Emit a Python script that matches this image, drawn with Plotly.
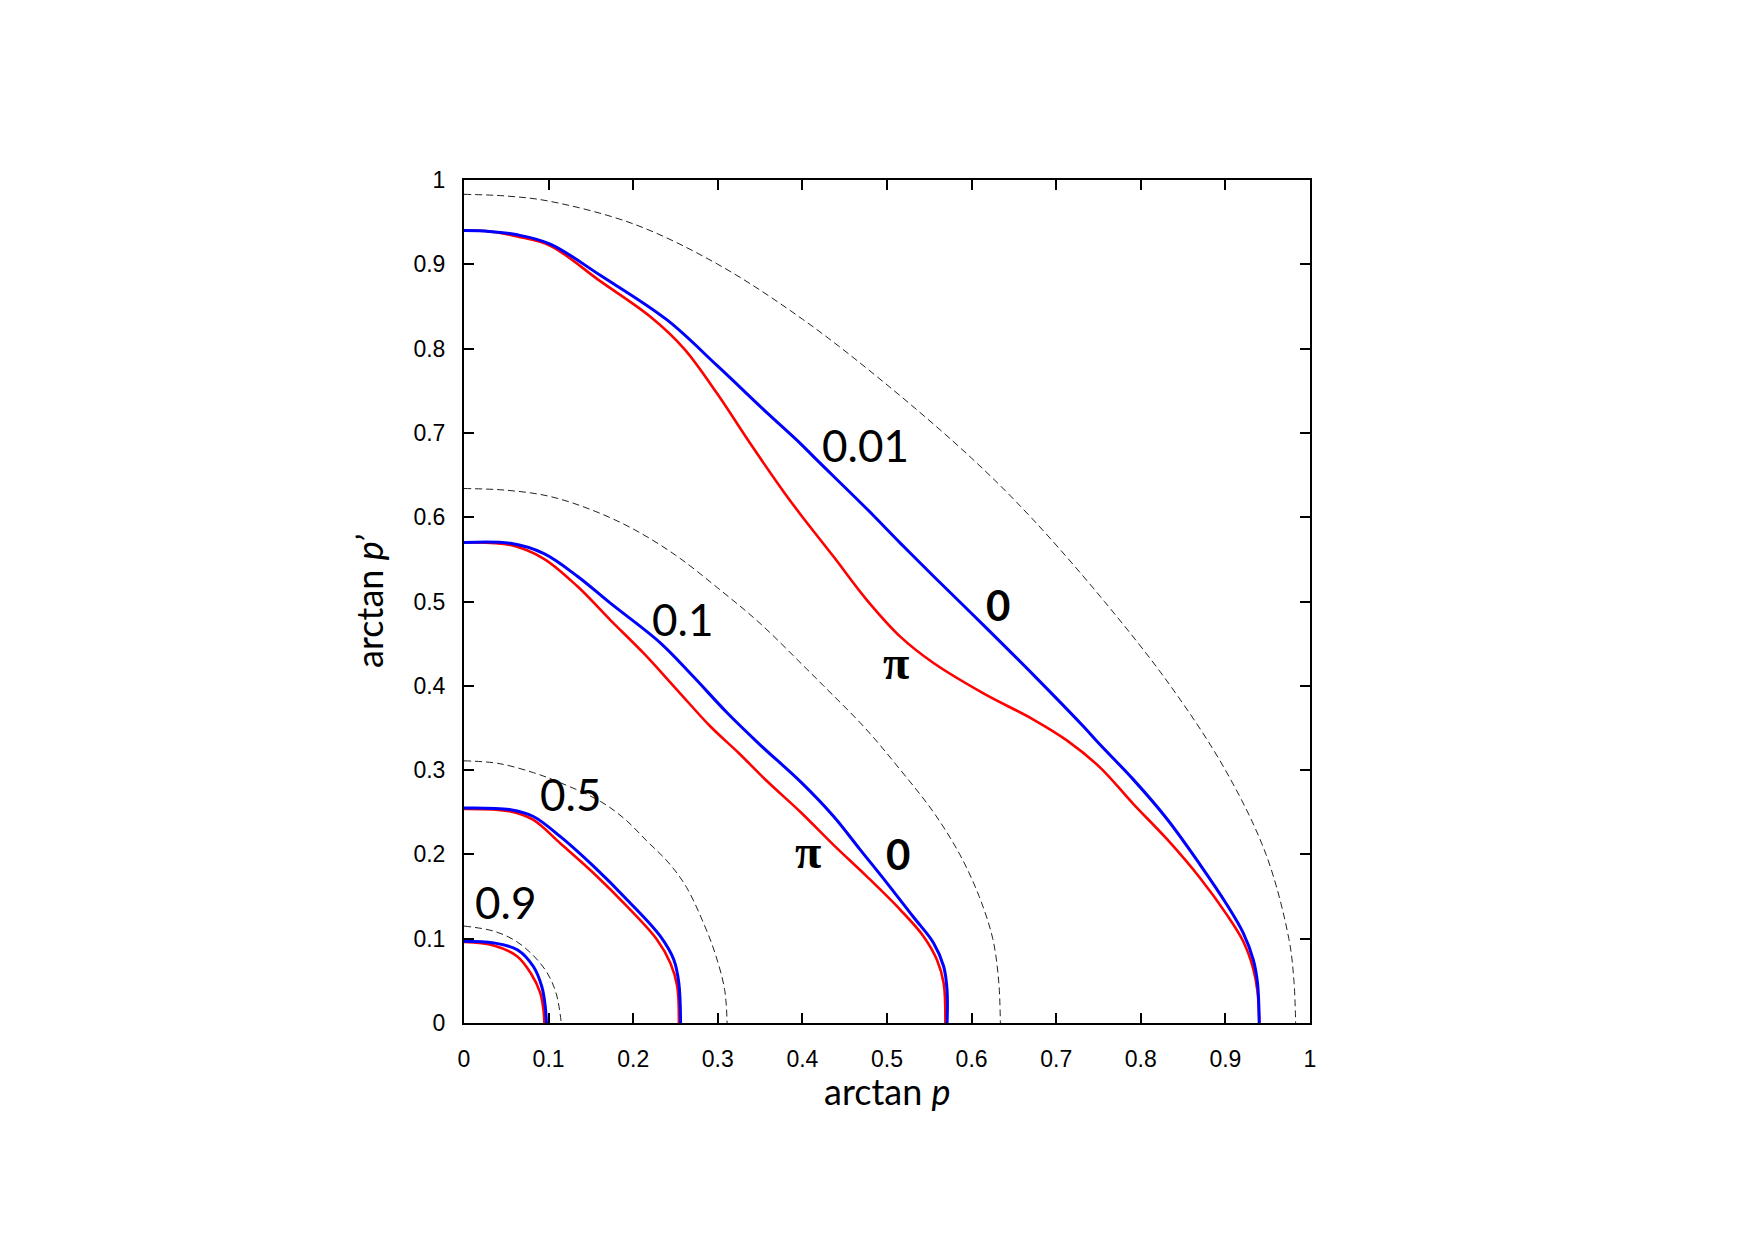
import plotly.graph_objects as go

# ---- data (x = arctan p, y = arctan p') ----
blue_001_x = [0, 0.03, 0.063, 0.102, 0.161, 0.240, 0.299, 0.358, 0.398, 0.417, 0.476, 0.516, 0.555, 0.614, 0.673, 0.732, 0.752, 0.791, 0.831, 0.870, 0.902, 0.921, 0.933, 0.938, 0.940]
blue_001_y = [0.940, 0.939, 0.935, 0.924, 0.887, 0.834, 0.780, 0.724, 0.687, 0.668, 0.610, 0.569, 0.530, 0.472, 0.413, 0.352, 0.330, 0.289, 0.242, 0.188, 0.140, 0.107, 0.075, 0.047, 0.0]
red_001_x = [0, 0.03, 0.063, 0.102, 0.161, 0.220, 0.260, 0.299, 0.338, 0.378, 0.398, 0.437, 0.476, 0.516, 0.555, 0.614, 0.673, 0.713, 0.752, 0.791, 0.831, 0.870, 0.902, 0.921, 0.933, 0.938, 0.940]
red_001_y = [0.940, 0.939, 0.933, 0.922, 0.880, 0.838, 0.800, 0.747, 0.688, 0.630, 0.603, 0.553, 0.502, 0.458, 0.427, 0.391, 0.360, 0.335, 0.303, 0.260, 0.218, 0.172, 0.128, 0.097, 0.064, 0.037, 0.0]

blue_01_x = [0, 0.055, 0.094, 0.134, 0.173, 0.232, 0.271, 0.311, 0.350, 0.398, 0.437, 0.468, 0.500, 0.531, 0.555, 0.567, 0.571, 0.571]
blue_01_y = [0.570, 0.569, 0.557, 0.530, 0.498, 0.451, 0.411, 0.368, 0.330, 0.286, 0.245, 0.206, 0.166, 0.126, 0.095, 0.067, 0.039, 0.0]
red_01_x = [0, 0.055, 0.094, 0.134, 0.173, 0.212, 0.252, 0.291, 0.325, 0.358, 0.398, 0.437, 0.476, 0.516, 0.543, 0.559, 0.567, 0.569]
red_01_y = [0.570, 0.567, 0.551, 0.518, 0.478, 0.439, 0.395, 0.352, 0.320, 0.287, 0.250, 0.211, 0.174, 0.134, 0.103, 0.075, 0.047, 0.0]

blue_05_x = [0, 0.055, 0.082, 0.114, 0.153, 0.193, 0.232, 0.248, 0.254, 0.256]
blue_05_y = [0.255, 0.253, 0.245, 0.221, 0.186, 0.146, 0.103, 0.075, 0.047, 0.0]
red_05_x = [0, 0.055, 0.082, 0.114, 0.153, 0.193, 0.228, 0.244, 0.252, 0.254]
red_05_y = [0.254, 0.251, 0.241, 0.213, 0.178, 0.138, 0.099, 0.071, 0.044, 0.0]

blue_09_x = [0, 0.035, 0.063, 0.082, 0.092, 0.096, 0.0975]
blue_09_y = [0.097, 0.095, 0.087, 0.067, 0.043, 0.020, 0.0]
red_09_x = [0, 0.035, 0.063, 0.079, 0.090, 0.094, 0.095]
red_09_y = [0.096, 0.092, 0.079, 0.059, 0.036, 0.015, 0.0]

dash_1_x = [0, 0.05, 0.1, 0.2, 0.3, 0.4, 0.5, 0.6, 0.670, 0.757, 0.835, 0.900, 0.948, 0.975, 0.981, 0.983]
dash_1_y = [0.983, 0.981, 0.975, 0.948, 0.900, 0.835, 0.757, 0.670, 0.600, 0.500, 0.400, 0.300, 0.200, 0.100, 0.050, 0.0]
dash_2_x = [0, 0.05, 0.1, 0.15, 0.2, 0.25, 0.3, 0.35, 0.4, 0.425, 0.474, 0.516, 0.555, 0.586, 0.609, 0.625, 0.632, 0.634]
dash_2_y = [0.634, 0.632, 0.625, 0.609, 0.586, 0.555, 0.516, 0.474, 0.425, 0.400, 0.350, 0.300, 0.250, 0.200, 0.150, 0.100, 0.050, 0.0]
dash_3_x = [0, 0.04, 0.082, 0.114, 0.161, 0.19, 0.216, 0.242, 0.263, 0.285, 0.297, 0.308, 0.311]
dash_3_y = [0.311, 0.308, 0.297, 0.285, 0.263, 0.242, 0.216, 0.190, 0.161, 0.114, 0.082, 0.040, 0.0]
dash_4_x = [0, 0.035, 0.060, 0.081, 0.098, 0.109, 0.115]
dash_4_y = [0.115, 0.109, 0.098, 0.081, 0.060, 0.035, 0.0]

label_text = ["0.01", "0.1", "0.5", "0.9"]
label_x = [0.474, 0.258, 0.126, 0.049]
label_y = [0.686, 0.479, 0.272, 0.143]
phase_text = ["0", "π", "0", "π"]
phase_x = [0.631, 0.511, 0.513, 0.407]
phase_y = [0.496, 0.428, 0.200, 0.203]

tick_vals = [0, 0.1, 0.2, 0.3, 0.4, 0.5, 0.6, 0.7, 0.8, 0.9, 1]
tick_text = ["0", "0.1", "0.2", "0.3", "0.4", "0.5", "0.6", "0.7", "0.8", "0.9", "1"]

fig = go.Figure()

for dx, dy in [(dash_1_x, dash_1_y), (dash_2_x, dash_2_y), (dash_3_x, dash_3_y), (dash_4_x, dash_4_y)]:
    fig.add_trace(go.Scatter(x=dx, y=dy, mode="lines", line=dict(color="#222222", width=1, dash="7px,4px", shape="spline", smoothing=1.0),
                             hoverinfo="skip", showlegend=False))

for rx, ry in [(red_001_x, red_001_y), (red_01_x, red_01_y), (red_05_x, red_05_y), (red_09_x, red_09_y)]:
    fig.add_trace(go.Scatter(x=rx, y=ry, mode="lines", line=dict(color="#ff0000", width=2.6, shape="spline", smoothing=1.0),
                             showlegend=False))

for bx, by in [(blue_001_x, blue_001_y), (blue_01_x, blue_01_y), (blue_05_x, blue_05_y), (blue_09_x, blue_09_y)]:
    fig.add_trace(go.Scatter(x=bx, y=by, mode="lines", line=dict(color="#0000ff", width=3, shape="spline", smoothing=1.0),
                             showlegend=False))

annos = []
for t, x, y in zip(label_text, label_x, label_y):
    annos.append(dict(x=x, y=y, xref="x", yref="y", text=t, showarrow=False,
                      font=dict(family="Lato", size=44, color="black")))
for t, x, y in zip(phase_text, phase_x, phase_y):
    fam = "Lato" if t == "0" else "Liberation Serif"
    annos.append(dict(x=x, y=y, xref="x", yref="y", text="<b>" + t + "</b>", showarrow=False,
                      font=dict(family=fam, size=42 if t == "0" else 48, color="black")))

annos.append(dict(x=0.5, y=-0.081, xref="paper", yref="paper", text="arctan <i>p</i>", showarrow=False,
                  xanchor="center", yanchor="middle", font=dict(family="Lato", size=36, color="black")))
annos.append(dict(x=-0.113, y=0.5, xref="paper", yref="paper", text="arctan <i>p’</i>", showarrow=False,
                  textangle=-90, xanchor="center", yanchor="middle", font=dict(family="Lato", size=36, color="black")))

axis_common = dict(range=[0, 1], tickvals=tick_vals, ticktext=tick_text, ticks="inside", ticklen=10, tickwidth=1.5,
                   tickcolor="black", showline=True, linecolor="black", linewidth=2, mirror="ticks",
                   showgrid=False, zeroline=False, tickfont=dict(family="Liberation Sans", size=23, color="black"))

fig.update_layout(
    width=1755, height=1240,
    margin=dict(l=464, r=445, t=180, b=217),
    paper_bgcolor="white", plot_bgcolor="white",
    xaxis=dict(**axis_common, ticklabelstandoff=14),
    yaxis=dict(**axis_common, ticklabelstandoff=12),
    annotations=annos,
    showlegend=False,
)

fig.write_html("out.html")
